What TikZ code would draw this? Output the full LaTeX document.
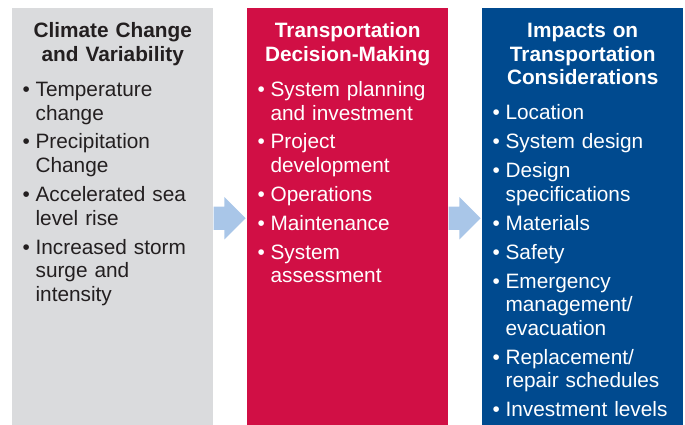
\documentclass[tikz,border=0pt]{standalone}
\usepackage{fontspec}
\setmainfont{Liberation Sans}
\usetikzlibrary{shapes.arrows,calc}

\definecolor{climategray}{RGB}{218,219,221}
\definecolor{decisionred}{RGB}{209,15,69}
\definecolor{impactblue}{RGB}{0,74,143}
\definecolor{flowblue}{RGB}{169,198,232}
\definecolor{textdark}{RGB}{35,31,32}

\newcommand{\bulletfirst}{\noindent\llap{\makebox[13pt][l]{\textbullet}}}
\newcommand{\bulletitem}{\par\parskip=5.3pt\bulletfirst}

\begin{document}
\begin{tikzpicture}[x=1pt,y=1pt]
  \tikzset{
    colbox/.style={rectangle,draw=none,minimum width=201pt,minimum height=417pt,anchor=north west,inner sep=0pt},
    coltitle/.style={font=\bfseries\fontsize{20.8}{23.6}\selectfont,text width=195pt,align=center,inner sep=0pt,anchor=base},
    itemlist/.style={font=\fontsize{20.8}{23.6}\selectfont,text width=178pt,align=left,inner sep=0pt,anchor=base west},
    flowarrow/.style={single arrow,fill=flowblue,draw=none,minimum height=32pt,inner xsep=0pt,inner ysep=11.5pt,single arrow head extend=9.5pt,anchor=tail}
  }
  \useasboundingbox (0,0) rectangle (685,-425);

  \node[colbox,fill=climategray] (climate) at (12,-8) {};
  \node[coltitle,text=textdark] (climate title) at ([yshift=-29.5pt]climate.north) {Climate Change\\and Variability};
  \node[itemlist,text=textdark] (climate items) at ([shift={(23.4pt,-88.5pt)}]climate.north west) {%
    \bulletfirst Temperature\newline change
    \bulletitem Precipitation\newline Change
    \bulletitem Accelerated sea\newline level rise
    \bulletitem Increased storm\newline surge and\newline intensity};

  \node[colbox,fill=decisionred] (decision) at (247,-8) {};
  \node[coltitle,text=white] (decision title) at ([yshift=-29.5pt]decision.north) {Transportation\\Decision-Making};
  \node[itemlist,text=white] (decision items) at ([shift={(23.4pt,-88.5pt)}]decision.north west) {%
    \bulletfirst System planning\newline and investment
    \bulletitem Project\newline development
    \bulletitem Operations
    \bulletitem Maintenance
    \bulletitem System\newline assessment};

  \node[colbox,fill=impactblue] (impacts) at (482,-8) {};
  \node[coltitle,text=white] (impacts title) at ([yshift=-29.5pt]impacts.north) {Impacts on\\Transportation\\Considerations};
  \node[itemlist,text=white] (impacts items) at ([shift={(23.4pt,-112pt)}]impacts.north west) {%
    \bulletfirst Location
    \bulletitem System design
    \bulletitem Design\newline specifications
    \bulletitem Materials
    \bulletitem Safety
    \bulletitem Emergency\newline management/\newline evacuation
    \bulletitem Replacement/\newline repair schedules
    \bulletitem Investment levels};

  \node[flowarrow] (first flow) at ([yshift=-1.5pt]climate.east) {};
  \node[flowarrow] (second flow) at ([yshift=-1.5pt]decision.east) {};

\end{tikzpicture}
\end{document}
